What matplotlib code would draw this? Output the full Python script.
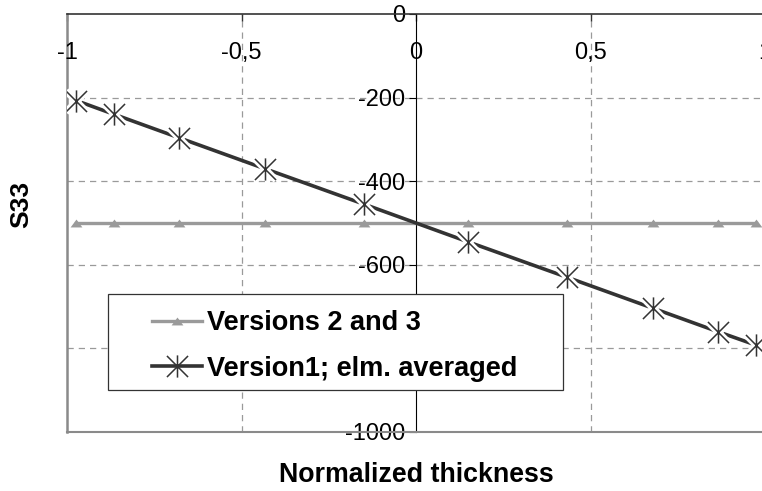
import numpy as np
import matplotlib.pyplot as plt
from matplotlib.path import Path
from matplotlib.patches import Rectangle

plt.rcParams['font.family'] = ['Liberation Sans', 'DejaVu Sans']

# normalized thickness positions (integration points)
thickness = [-0.9739, -0.8651, -0.6794, -0.4334, -0.1489,
             0.1489, 0.4334, 0.6794, 0.8651, 0.9739]
s33_v23 = [-500, -500, -500, -500, -500, -500, -500, -500, -500, -500]
s33_v1 = [-207, -240, -296, -370, -455, -545, -630, -704, -760, -792]

xticks = [-1, -0.5, 0, 0.5, 1]
xtick_labels = ['-1', '-0,5', '0', '0,5', '1']
yticks = [0, -200, -400, -600, -800, -1000]
ytick_labels = ['0', '-200', '-400', '-600', '-800', '-1000']

label_v23 = 'Versions 2 and 3'
label_v1 = 'Version1; elm. averaged'

W, H = 762, 491
fig = plt.figure(figsize=(W / 100, H / 100), dpi=100)
ax = fig.add_axes([67 / W, 59 / H, 698 / W, 418 / H])
ax.set_xlim(-1, 1)
ax.set_ylim(-1000, 0)

# custom markers
star = Path([(0, -1), (0, 1), (-0.95, -0.95), (0.95, 0.95), (-0.95, 0.95), (0.95, -0.95)],
            [Path.MOVETO, Path.LINETO, Path.MOVETO, Path.LINETO, Path.MOVETO, Path.LINETO])
tri = Path([(-1, -0.67), (1, -0.67), (0, 0.67), (-1, -0.67)],
           [Path.MOVETO, Path.LINETO, Path.LINETO, Path.CLOSEPOLY])

grey = '#9a9a9a'
dark = '#333333'

# grid
for yv in yticks[1:-1]:
    ax.axhline(yv, color=grey, lw=0.9, ls=(0, (5, 4)), zorder=1)
for xv in [-0.5, 0.5]:
    ax.axvline(xv, color=grey, lw=0.9, ls=(0, (5, 4)), zorder=1)

ax.plot(thickness, s33_v23, color=grey, lw=2.4, marker=tri, ms=8.5,
        mfc=grey, mec=grey, mew=0, zorder=3)
ax.plot(thickness, s33_v1, color=dark, lw=2.6, zorder=4)
ax.plot(thickness, s33_v1, ls='none', marker=star, ms=16, mec='white', mew=5, zorder=5)
ax.plot(thickness, s33_v1, ls='none', marker=star, ms=16, mec=dark, mew=1.1, zorder=6)

# spines
ax.spines['right'].set_visible(False)
ax.spines['left'].set_position(('data', 0))
ax.spines['left'].set_color('black')
ax.spines['left'].set_linewidth(0.8)
ax.spines['top'].set_color(dark)
ax.spines['top'].set_linewidth(1.2)
ax.spines['bottom'].set_color('#8a8a8a')
ax.spines['bottom'].set_linewidth(1.5)
ax.axvline(-1, color='#8a8a8a', lw=1.8, clip_on=False, zorder=2)

ax.set_yticks(yticks)
ax.set_yticklabels(ytick_labels)
ax.tick_params(axis='y', direction='out', length=5, width=0.8, color='black',
               labelsize=17, pad=3)

ax.set_xticks(xticks)
ax.set_xticklabels([])
ax.tick_params(axis='x', bottom=False, top=True, direction='in', length=5,
               width=1, color=dark)
for xv, lab in zip(xticks, xtick_labels):
    ax.annotate(lab, xy=(xv, 0), xytext=(0, -20), textcoords='offset points',
                ha='center', va='top', fontsize=17, annotation_clip=False)

fig.text(416 / W, 1 - 475 / H, 'Normalized thickness', ha='center', va='center',
         fontsize=19.3, fontweight='bold')
fig.text(21 / W, 1 - 204 / H, 'S33', ha='center', va='center', rotation=90,
         fontsize=19, fontweight='bold')

# legend with its own frame
fig.patches.append(Rectangle((108 / W, 1 - 390 / H), 455 / W, 96 / H,
                             transform=fig.transFigure, facecolor='white',
                             edgecolor=dark, lw=0.9, zorder=3))
h1 = plt.Line2D([], [], color=grey, lw=2.4, marker=tri, ms=8.5, mfc=grey, mew=0)
h2 = plt.Line2D([], [], color=dark, lw=2.6, marker=star, ms=16, mec=dark, mew=1.1)
leg = fig.legend([h1, h2], [label_v23, label_v1], loc='upper left',
                 bbox_to_anchor=(152 / W, 1 - 310 / H), frameon=False,
                 prop={'weight': 'bold', 'size': 19.5}, handlelength=1.85,
                 handletextpad=0.19, labelspacing=0.72, borderpad=0, borderaxespad=0)
leg.set_zorder(5)

fig.savefig('out.png', dpi=100)
